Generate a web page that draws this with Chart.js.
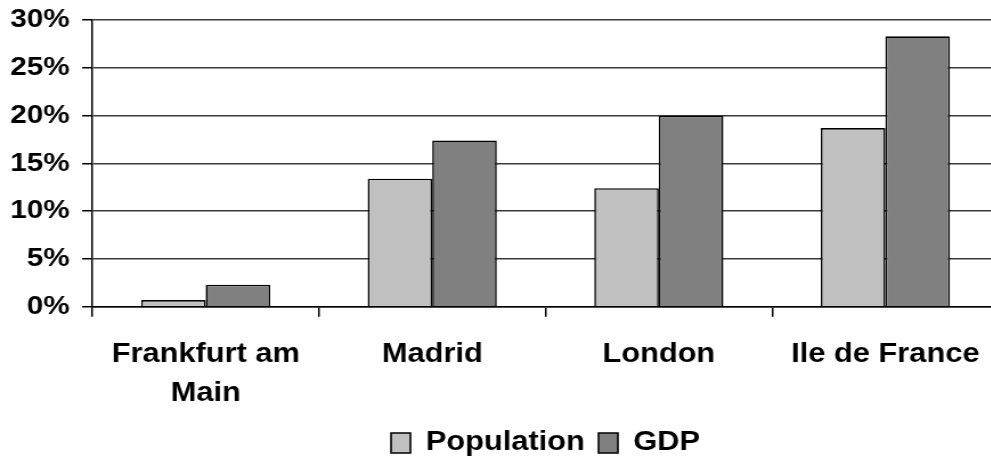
<!DOCTYPE html>
<html>
<head>
<meta charset="utf-8">
<style>
  html, body { margin: 0; padding: 0; background: #fff; overflow: hidden; width: 991px; height: 459px; }
  /* the drawing is laid out narrow and widened horizontally */
  #wrap { position: absolute; left: 0; top: 0; width: 884px; height: 459px; transform: scaleX(1.14); transform-origin: 0 0; }
  canvas { display: block; }
</style>
<script src="https://cdn.jsdelivr.net/npm/chart.js@4"></script>
</head>
<body>
<div id="wrap"><canvas id="chart" width="884" height="459"></canvas></div>
<script>
// Regions compared
const categories = [['Frankfurt am', 'Main'], 'Madrid', 'London', 'Ile de France'];

// Share of the total, in percent
const population = [0.7, 13.4, 12.4, 18.7];
const gdp = [2.3, 17.4, 20.0, 28.3];

// Value axis
const yMin = 0;
const yMax = 30;
const yStep = 5;

Chart.defaults.font.family = '"Liberation Sans", Arial, sans-serif';
Chart.defaults.font.weight = 'bold';
Chart.defaults.font.size = 27;
Chart.defaults.color = '#000';

new Chart(document.getElementById('chart'), {
  type: 'bar',
  data: {
    labels: categories,
    datasets: [
      { label: 'Population', data: population, backgroundColor: '#c0c0c0', borderColor: '#000', borderWidth: 1.6 },
      { label: 'GDP', data: gdp, backgroundColor: '#808080', borderColor: '#000', borderWidth: 1.6 }
    ]
  },
  options: {
    responsive: false,
    animation: false,
    devicePixelRatio: 1,
    layout: { padding: { left: -2, right: 8, top: -3, bottom: -7.5 } },
    datasets: { bar: { categoryPercentage: 0.57, barPercentage: 1 } },
    plugins: {
      tooltip: { enabled: false },
      legend: {
        position: 'bottom',
        fullSize: false,
        labels: {
          boxWidth: 17,
          boxHeight: 20,
          padding: 12,
          color: '#000',
          font: { size: 27, weight: 'bold' }
        }
      }
    },
    scales: {
      x: {
        grid: { offset: true, drawOnChartArea: false, drawTicks: true, tickLength: 10, color: '#000', lineWidth: 1.5 },
        border: { color: '#000', width: 1.5 },
        ticks: { padding: 18.5, maxRotation: 0, autoSkip: false, font: { size: 27, weight: 'bold', lineHeight: 1.44 } },
        // tighten the space between the category names and the legend
        afterFit: scale => { scale.height -= 14; }
      },
      y: {
        min: yMin,
        max: yMax,
        grid: { color: '#3a3a3a', lineWidth: 1.5, tickLength: 9, tickColor: '#000' },
        border: { color: '#000', width: 1.5 },
        ticks: { stepSize: yStep, padding: 11, callback: v => v + '%', font: { size: 26, weight: 'bold', lineHeight: 0.7 } }
      }
    }
  }
});
</script>
</body>
</html>
